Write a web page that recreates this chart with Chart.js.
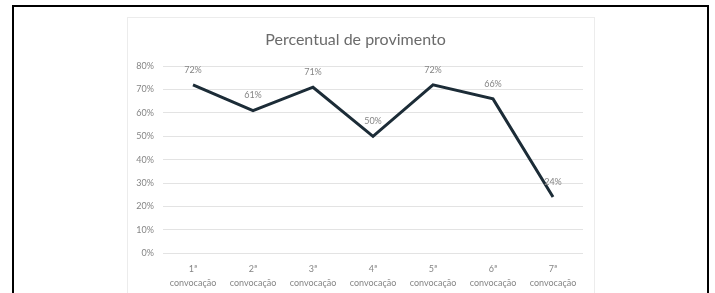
<!DOCTYPE html>
<html>
<head>
<meta charset="utf-8">
<script src="https://cdn.jsdelivr.net/npm/chart.js@4.4.1/dist/chart.umd.min.js"></script>
<style>
    html, body { margin: 0; padding: 0; background: #fff; overflow: hidden; }
    #frame {
        position: absolute; left: 12px; top: 5px; width: 693px; height: 300px;
        border: 2px solid #000;
    }
    #box {
        position: absolute; left: 127px; top: 17px; width: 466px; height: 290px;
        border: 1px solid #ececec; background: #fff;
    }
    #wrap { position: absolute; left: 128px; top: 18px; width: 466px; height: 273px; }
</style>
</head>
<body>
<div id="frame"></div>
<div id="box"></div>
<div id="wrap"><canvas id="chart"></canvas></div>
<script>
// Chart data
const categories = [
    ['1ª', 'convocação'], ['2ª', 'convocação'], ['3ª', 'convocação'], ['4ª', 'convocação'],
    ['5ª', 'convocação'], ['6ª', 'convocação'], ['7ª', 'convocação']
];
const provimento = [72, 61, 71, 50, 72, 66, 24];
const yTicks = [0, 10, 20, 30, 40, 50, 60, 70, 80];

const textGray = '#858585';
const labelFont = { family: "'Lato', sans-serif", size: 9 };

// Draw value labels above each point
const valueLabels = {
    id: 'valueLabels',
    afterDatasetsDraw(chart) {
        const ctx = chart.ctx;
        const meta = chart.getDatasetMeta(0);
        ctx.save();
        ctx.font = `${labelFont.size}px ${labelFont.family}`;
        ctx.fillStyle = textGray;
        ctx.textAlign = 'center';
        ctx.textBaseline = 'middle';
        meta.data.forEach((pt, i) => {
            ctx.fillText(provimento[i] + '%', pt.x, pt.y - 15);
        });
        ctx.restore();
    }
};

new Chart(document.getElementById('chart'), {
    type: 'line',
    data: {
        labels: categories,
        datasets: [{
            data: provimento,
            borderColor: '#1c2c37',
            borderWidth: 3,
            pointRadius: 0,
            tension: 0,
            fill: false
        }]
    },
    options: {
        responsive: true,
        maintainAspectRatio: false,
        animation: false,
        layout: { padding: { left: 0, right: 11, top: 0, bottom: 0 } },
        plugins: {
            legend: { display: false },
            tooltip: { enabled: false },
            title: {
                display: true,
                text: 'Percentual de provimento',
                color: '#6b6b6b',
                font: { family: "'Lato', sans-serif", size: 16, weight: 'normal' },
                padding: { top: 12, bottom: 17 }
            }
        },
        scales: {
            x: {
                offset: true,
                grid: { display: false },
                border: { display: false },
                ticks: {
                    color: textGray,
                    font: { ...labelFont, lineHeight: 1.55 },
                    padding: 1,
                    maxRotation: 0,
                    autoSkip: false
                }
            },
            y: {
                min: 0,
                max: 80,
                afterBuildTicks: (scale) => {
                    scale.ticks = yTicks.map(v => ({ value: v }));
                },
                afterFit: (scale) => { scale.width = 35; },
                grid: { color: '#e3e3e3', drawTicks: false },
                border: { display: false },
                ticks: {
                    color: textGray,
                    font: labelFont,
                    padding: 9,
                    callback: (v) => v + '%'
                }
            }
        }
    },
    plugins: [valueLabels]
});
</script>
</body>
</html>
